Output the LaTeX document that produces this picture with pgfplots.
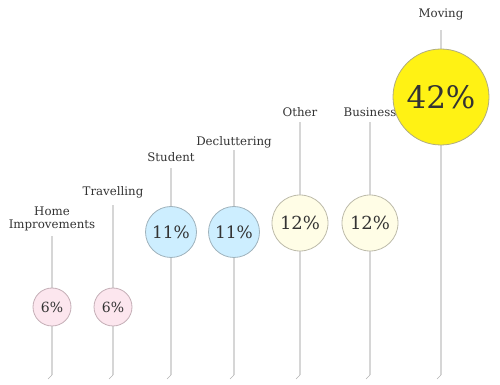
\documentclass[border=0pt]{standalone}
\usepackage{pgfplots}
\pgfplotsset{compat=1.18}
\usepackage{fontspec}
\setmainfont{DejaVu Serif}
\definecolor{txt}{HTML}{333333}
\definecolor{stem}{HTML}{D6D6D6}
\definecolor{pinkf}{HTML}{FCE6EE}
\definecolor{pinkb}{HTML}{C4AEB6}
\definecolor{bluef}{HTML}{CDEEFF}
\definecolor{blueb}{HTML}{9FB2BC}
\definecolor{creamf}{HTML}{FFFDE6}
\definecolor{creamb}{HTML}{BDBBAA}
\definecolor{yelf}{HTML}{FFF214}
\definecolor{yelb}{HTML}{B0AC80}
\begin{document}
\begin{tikzpicture}
\begin{axis}[
  width=500pt, height=385pt, scale only axis,
  xmin=0, xmax=500, ymin=0, ymax=385,
  axis lines=none, clip=false,
]
\path[draw=none] (rel axis cs:0,0) rectangle (rel axis cs:1,1);
% stems
\addplot[stem, line width=1.3pt] coordinates {(52,10) (52,149)};
\addplot[stem, line width=1.3pt] coordinates {(113,10) (113,180)};
\addplot[stem, line width=1.3pt] coordinates {(171,10) (171,217)};
\addplot[stem, line width=1.3pt] coordinates {(234,10) (234,235)};
\addplot[stem, line width=1.3pt] coordinates {(300,10) (300,263)};
\addplot[stem, line width=1.3pt] coordinates {(370,10) (370,263)};
\addplot[stem, line width=1.3pt] coordinates {(441,10) (441,355)};
% bottom slashes
\addplot[gray!60, line width=0.6pt] coordinates {(52,10) (48,6)};
\addplot[gray!60, line width=0.6pt] coordinates {(113,10) (109,6)};
\addplot[gray!60, line width=0.6pt] coordinates {(171,10) (167,6)};
\addplot[gray!60, line width=0.6pt] coordinates {(234,10) (230,6)};
\addplot[gray!60, line width=0.6pt] coordinates {(300,10) (296,6)};
\addplot[gray!60, line width=0.6pt] coordinates {(370,10) (366,6)};
\addplot[gray!60, line width=0.6pt] coordinates {(441,10) (437,6)};
% circles
\addplot[only marks, mark=*, mark size=19pt, mark options={fill=pinkf, draw=pinkb, line width=0.8pt},
  nodes near coords, point meta=explicit symbolic,
  every node near coord/.style={anchor=center, font=\fontsize{14}{14}\selectfont, text=txt}]
  coordinates {(52,78) [6\%] (113,78) [6\%]};
\addplot[only marks, mark=*, mark size=25.5pt, mark options={fill=bluef, draw=blueb, line width=0.8pt},
  nodes near coords, point meta=explicit symbolic,
  every node near coord/.style={anchor=center, font=\fontsize{17}{17}\selectfont, text=txt}]
  coordinates {(171,153) [11\%] (234,153) [11\%]};
\addplot[only marks, mark=*, mark size=28pt, mark options={fill=creamf, draw=creamb, line width=0.8pt},
  nodes near coords, point meta=explicit symbolic,
  every node near coord/.style={anchor=center, font=\fontsize{18}{18}\selectfont, text=txt}]
  coordinates {(300,162) [12\%] (370,162) [12\%]};
\addplot[only marks, mark=*, mark size=48pt, mark options={fill=yelf, draw=yelb, line width=0.8pt},
  nodes near coords, point meta=explicit symbolic,
  every node near coord/.style={anchor=center, font=\fontsize{31}{31}\selectfont, text=txt}]
  coordinates {(441,288) [42\%]};
% labels
\begin{scope}[every node/.style={font=\fontsize{11.8}{13.5}\selectfont, text=txt, align=center}]
\node at (axis cs:52,166) {Home\\Improvements};
\node at (axis cs:113,193) {Travelling};
\node at (axis cs:171,228) {Student};
\node at (axis cs:234,243) {Decluttering};
\node at (axis cs:300,273) {Other};
\node at (axis cs:370,273) {Business};
\node at (axis cs:441,371) {Moving};
\end{scope}
\end{axis}
\end{tikzpicture}
\end{document}
